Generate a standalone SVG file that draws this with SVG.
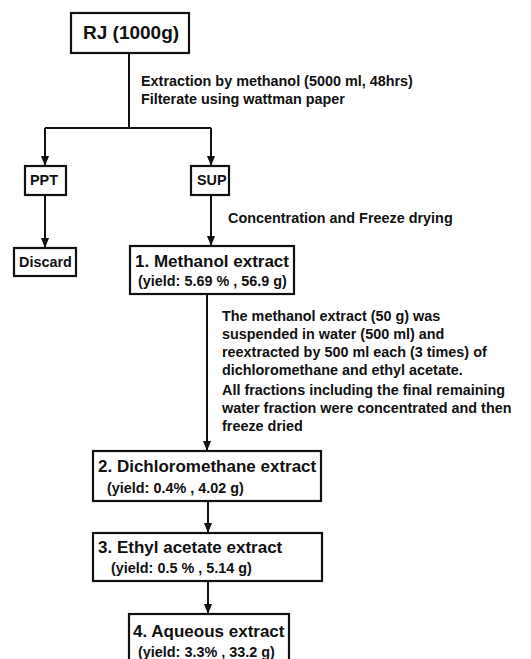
<svg xmlns="http://www.w3.org/2000/svg" width="531" height="659" viewBox="0 0 531 659">
<style>
.box{fill:#fff;stroke:#111;stroke-width:2.2}
.ln{fill:none;stroke:#111;stroke-width:2}
text{font-family:"Liberation Sans",Arial,sans-serif;font-weight:bold;fill:#111}
.t19{font-size:19px}
.t17{font-size:17px}
.t14{font-size:14.4px}
</style>
<defs>
<marker id="ah" markerUnits="userSpaceOnUse" markerWidth="10" markerHeight="10" viewBox="0 0 10 10" refX="10" refY="5" orient="auto">
<path d="M0,1 L10,5 L0,9 z" fill="#111"/>
</marker>
</defs>
<g id="connectors">
<path class="ln" d="M129,53 V128"/>
<path class="ln" d="M45,128 H211"/>
<path class="ln" d="M45,128 V166" marker-end="url(#ah)"/>
<path class="ln" d="M211,128 V166" marker-end="url(#ah)"/>
<path class="ln" d="M45,195 V248" marker-end="url(#ah)"/>
<path class="ln" d="M211,195 V246" marker-end="url(#ah)"/>
<path class="ln" d="M207,294 V451" marker-end="url(#ah)"/>
<path class="ln" d="M208,501 V533" marker-end="url(#ah)"/>
<path class="ln" d="M208,581 V614" marker-end="url(#ah)"/>
</g>
<g id="labels">
<text class="t14" x="141" y="86">Extraction by methanol (5000 ml, 48hrs)</text>
<text class="t14" x="141" y="104">Filterate using wattman paper</text>
<text class="t14" x="228" y="223">Concentration and Freeze drying</text>
<text class="t14" x="222" y="321">The methanol extract (50 g) was</text>
<text class="t14" x="222" y="339">suspended in water (500 ml) and</text>
<text class="t14" x="222" y="357">reextracted by 500 ml each (3 times) of</text>
<text class="t14" x="222" y="375">dichloromethane and ethyl acetate.</text>
<text class="t14" x="222" y="395">All fractions including the final remaining</text>
<text class="t14" x="222" y="413">water fraction were concentrated and then</text>
<text class="t14" x="222" y="431">freeze dried</text>
</g>
<g id="rj">
<rect class="box" x="71" y="13" width="118" height="40"/>
<text class="t19" x="83" y="39">RJ (1000g)</text>
</g>
<g id="ppt">
<rect class="box" x="25" y="166" width="41" height="29"/>
<text class="t14" x="30" y="185">PPT</text>
</g>
<g id="sup">
<rect class="box" x="191" y="166" width="38" height="29"/>
<text class="t14" x="197" y="185">SUP</text>
</g>
<g id="discard">
<rect class="box" x="14" y="248" width="62" height="28"/>
<text class="t14" x="19" y="267">Discard</text>
</g>
<g id="methanol">
<rect class="box" x="130" y="246" width="164" height="48"/>
<text class="t17" x="135" y="267">1. Methanol extract</text>
<text class="t14" x="138" y="286">(yield: 5.69 % , 56.9 g)</text>
</g>
<g id="dichloromethane">
<rect class="box" x="93" y="451" width="228" height="50"/>
<text class="t17" x="98" y="472">2. Dichloromethane extract</text>
<text class="t14" x="107" y="493">(yield: 0.4% , 4.02 g)</text>
</g>
<g id="ethylacetate">
<rect class="box" x="93" y="533" width="229" height="48"/>
<text class="t17" x="98" y="553">3. Ethyl acetate extract</text>
<text class="t14" x="111" y="573">(yield: 0.5 % , 5.14 g)</text>
</g>
<g id="aqueous">
<rect class="box" x="129" y="614" width="160" height="60"/>
<text class="t17" x="133" y="637">4. Aqueous extract</text>
<text class="t14" x="138" y="657">(yield: 3.3% , 33.2 g)</text>
</g>
</svg>
